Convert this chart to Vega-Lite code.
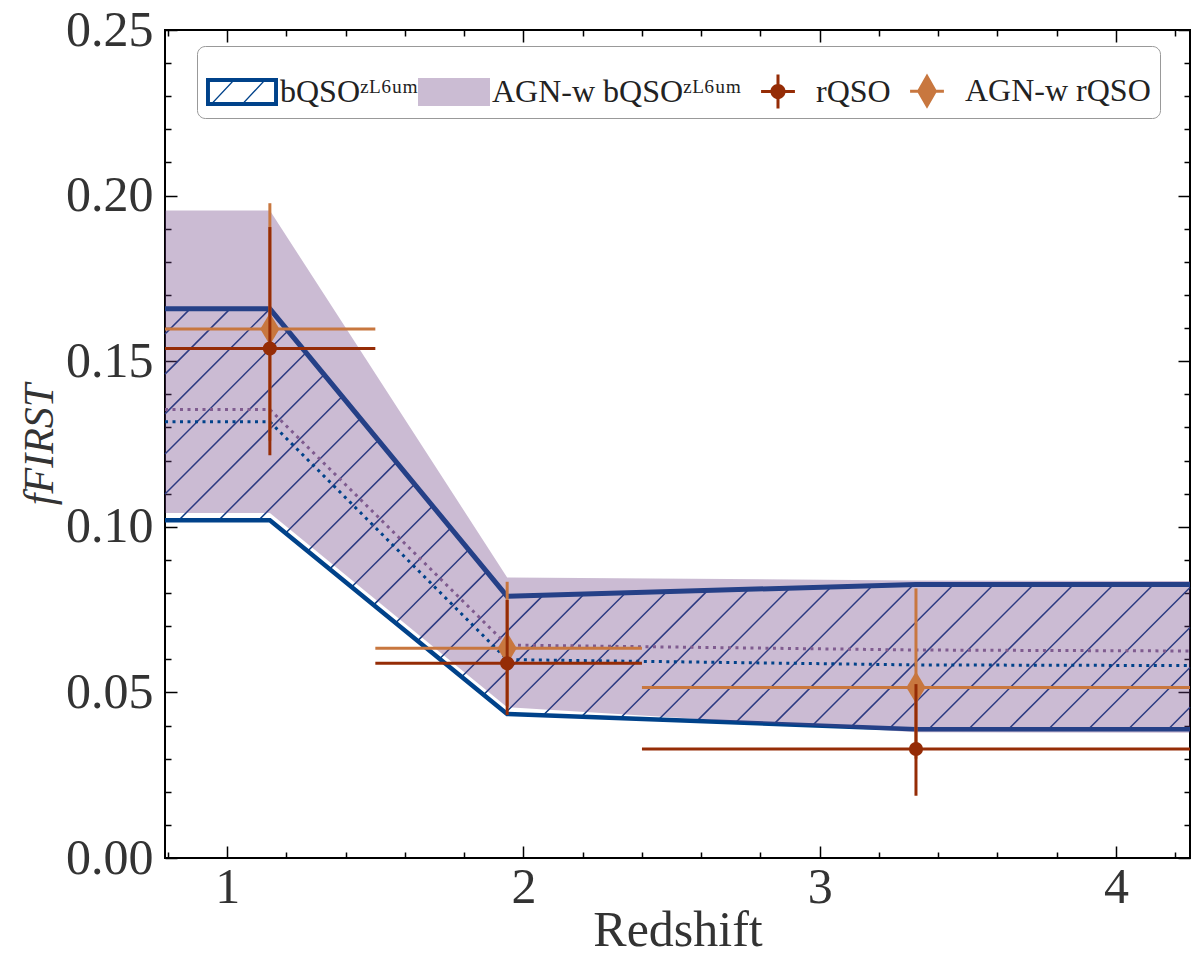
{
  "$schema": "https://vega.github.io/schema/vega-lite/v6.json",
  "width": 1025,
  "height": 828,
  "autosize": {"type": "none"},
  "padding": {"left": 165, "top": 30, "right": 10, "bottom": 103},
  "background": "white",
  "config": {
    "view": {"stroke": "black", "strokeWidth": 2},
    "font": "Liberation Serif"
  },
  "datasets": {
    "hatch": [
      {"x": 0.79, "y": 0.1582, "x2": 0.8746, "y2": 0.1658},
      {"x": 0.79, "y": 0.1461, "x2": 1.0094, "y2": 0.1658},
      {"x": 0.79, "y": 0.1341, "x2": 1.1441, "y2": 0.1658},
      {"x": 0.79, "y": 0.1220, "x2": 1.2052, "y2": 0.1592},
      {"x": 0.79, "y": 0.1099, "x2": 1.2666, "y2": 0.1526},
      {"x": 0.8365, "y": 0.1020, "x2": 1.3276, "y2": 0.1460},
      {"x": 0.9713, "y": 0.1020, "x2": 1.3889, "y2": 0.1394},
      {"x": 1.1061, "y": 0.1020, "x2": 1.4503, "y2": 0.1328},
      {"x": 1.1975, "y": 0.0981, "x2": 1.5113, "y2": 0.1262},
      {"x": 1.2720, "y": 0.0927, "x2": 1.5726, "y2": 0.1196},
      {"x": 1.3465, "y": 0.0873, "x2": 1.6340, "y2": 0.1130},
      {"x": 1.4210, "y": 0.0819, "x2": 1.6950, "y2": 0.1064},
      {"x": 1.4954, "y": 0.0765, "x2": 1.7563, "y2": 0.0998},
      {"x": 1.5699, "y": 0.0711, "x2": 1.8176, "y2": 0.0933},
      {"x": 1.6444, "y": 0.0657, "x2": 1.8786, "y2": 0.0867},
      {"x": 1.7189, "y": 0.0603, "x2": 1.9400, "y2": 0.0801},
      {"x": 1.7934, "y": 0.0549, "x2": 2.0661, "y2": 0.0793},
      {"x": 1.8679, "y": 0.0495, "x2": 2.2052, "y2": 0.0797},
      {"x": 1.9423, "y": 0.0441, "x2": 2.3441, "y2": 0.0800},
      {"x": 2.0667, "y": 0.0431, "x2": 2.4833, "y2": 0.0804},
      {"x": 2.1968, "y": 0.0427, "x2": 2.6222, "y2": 0.0808},
      {"x": 2.3266, "y": 0.0422, "x2": 2.7614, "y2": 0.0812},
      {"x": 2.4567, "y": 0.0418, "x2": 2.9002, "y2": 0.0816},
      {"x": 2.5864, "y": 0.0414, "x2": 3.0391, "y2": 0.0819},
      {"x": 2.7165, "y": 0.0409, "x2": 3.1783, "y2": 0.0823},
      {"x": 2.8463, "y": 0.0405, "x2": 3.3171, "y2": 0.0826},
      {"x": 2.9764, "y": 0.0401, "x2": 3.4523, "y2": 0.0826},
      {"x": 3.1062, "y": 0.0396, "x2": 3.5871, "y2": 0.0826},
      {"x": 3.2362, "y": 0.0392, "x2": 3.7219, "y2": 0.0826},
      {"x": 3.3677, "y": 0.0389, "x2": 3.8567, "y2": 0.0826},
      {"x": 3.5025, "y": 0.0389, "x2": 3.9916, "y2": 0.0826},
      {"x": 3.6373, "y": 0.0389, "x2": 4.1264, "y2": 0.0826},
      {"x": 3.7722, "y": 0.0389, "x2": 4.25, "y2": 0.0817},
      {"x": 3.9070, "y": 0.0389, "x2": 4.25, "y2": 0.0696},
      {"x": 4.0418, "y": 0.0389, "x2": 4.25, "y2": 0.0575},
      {"x": 4.1766, "y": 0.0389, "x2": 4.25, "y2": 0.0455}
    ],
    "band": [
      {"x": 0.79, "bhi": 0.1658, "blo": 0.1020, "phi": 0.1955, "plo": 0.1042, "bmid": 0.1317, "pmid": 0.1354},
      {"x": 1.144, "bhi": 0.1658, "blo": 0.1020, "phi": 0.1955, "plo": 0.1042, "bmid": 0.1317, "pmid": 0.1354},
      {"x": 1.945, "bhi": 0.0790, "blo": 0.0435, "phi": 0.0847, "plo": 0.0455, "bmid": 0.0599, "pmid": 0.0643},
      {"x": 3.325, "bhi": 0.0826, "blo": 0.0389, "phi": 0.0838, "plo": 0.0380, "bmid": 0.0583, "pmid": 0.0628},
      {"x": 4.25, "bhi": 0.0826, "blo": 0.0389, "phi": 0.0836, "plo": 0.0378, "bmid": 0.0581, "pmid": 0.0625}
    ],
    "pts": [
      {"series": "AGN-w rQSO", "x": 1.144, "y": 0.1597, "xlo": 0.79, "xhi": 1.5, "ylo": 0.126, "yhi": 0.1977},
      {"series": "AGN-w rQSO", "x": 1.945, "y": 0.0633, "xlo": 1.5, "xhi": 2.4, "ylo": 0.046, "yhi": 0.0834},
      {"series": "AGN-w rQSO", "x": 3.325, "y": 0.0515, "xlo": 2.4, "xhi": 4.25, "ylo": 0.030, "yhi": 0.0814},
      {"series": "rQSO", "x": 1.144, "y": 0.1538, "xlo": 0.79, "xhi": 1.5, "ylo": 0.1216, "yhi": 0.1905},
      {"series": "rQSO", "x": 1.945, "y": 0.0588, "xlo": 1.5, "xhi": 2.4, "ylo": 0.0432, "yhi": 0.0779},
      {"series": "rQSO", "x": 3.325, "y": 0.0329, "xlo": 2.4, "xhi": 4.25, "ylo": 0.0188, "yhi": 0.0525}
    ]
  },
  "layer": [
    {
      "data": {"name": "hatch"},
      "mark": {"type": "rule", "color": "#0b3a82", "strokeWidth": 1.5},
      "encoding": {
        "x": {"field": "x", "type": "quantitative",
          "scale": {"domain": [0.79, 4.25], "nice": false, "zero": false},
          "axis": {
            "orient": "bottom",
            "values": [0.8, 1, 1.2, 1.4, 1.6, 1.8, 2, 2.2, 2.4, 2.6, 2.8, 3, 3.2, 3.4, 3.6, 3.8, 4, 4.2],
            "labelExpr": "abs(datum.value - round(datum.value)) < 0.001 ? format(datum.value, 'd') : ''",
            "tickSize": {"condition": {"test": "abs(datum.value - round(datum.value)) < 0.001", "value": -12}, "value": -6},
            "tickWidth": 1.5, "tickColor": "black", "domain": false, "grid": false,
            "labelFont": "Liberation Serif", "labelFontSize": 50, "labelColor": "#333", "labelPadding": 16,
            "title": "Redshift", "titleFont": "Liberation Serif", "titleFontSize": 50,
            "titleFontWeight": "normal", "titleColor": "#333", "titlePadding": -7
          }},
        "y": {"field": "y", "type": "quantitative",
          "scale": {"domain": [0, 0.25], "nice": false},
          "axis": {
            "orient": "left",
            "values": [0, 0.01, 0.02, 0.03, 0.04, 0.05, 0.06, 0.07, 0.08, 0.09, 0.1, 0.11, 0.12, 0.13, 0.14, 0.15, 0.16, 0.17, 0.18, 0.19, 0.2, 0.21, 0.22, 0.23, 0.24, 0.25],
            "labelExpr": "abs(datum.value * 20 - round(datum.value * 20)) < 0.001 ? format(datum.value, '.2f') : ''",
            "tickSize": {"condition": {"test": "abs(datum.value * 20 - round(datum.value * 20)) < 0.001", "value": -12}, "value": -6},
            "tickWidth": 1.5, "tickColor": "black", "domain": false, "grid": false,
            "labelFont": "Liberation Serif", "labelFontSize": 50, "labelColor": "#333", "labelPadding": 24,
            "title": "fFIRST", "titleFont": "Liberation Serif", "titleFontSize": 42, "titleFontStyle": "italic",
            "titleFontWeight": "normal", "titleColor": "#333", "titlePadding": 4
          }},
        "x2": {"field": "x2"},
        "y2": {"field": "y2"}
      }
    },
    {
      "data": {"name": "band"},
      "mark": {"type": "line", "color": "#00428a", "strokeWidth": 5},
      "encoding": {
        "x": {"field": "x", "type": "quantitative",
          "scale": {"domain": [0.79, 4.25], "nice": false, "zero": false},
          "axis": {
            "orient": "top",
            "values": [0.8, 1, 1.2, 1.4, 1.6, 1.8, 2, 2.2, 2.4, 2.6, 2.8, 3, 3.2, 3.4, 3.6, 3.8, 4, 4.2],
            "labels": false, "title": null, "domain": false, "grid": false,
            "tickSize": {"condition": {"test": "abs(datum.value - round(datum.value)) < 0.001", "value": -12}, "value": -6},
            "tickWidth": 1.5, "tickColor": "black"
          }},
        "y": {"field": "bhi", "type": "quantitative",
          "scale": {"domain": [0, 0.25], "nice": false},
          "axis": {
            "orient": "right",
            "values": [0, 0.01, 0.02, 0.03, 0.04, 0.05, 0.06, 0.07, 0.08, 0.09, 0.1, 0.11, 0.12, 0.13, 0.14, 0.15, 0.16, 0.17, 0.18, 0.19, 0.2, 0.21, 0.22, 0.23, 0.24, 0.25],
            "labels": false, "title": null, "domain": false, "grid": false,
            "tickSize": {"condition": {"test": "abs(datum.value * 20 - round(datum.value * 20)) < 0.001", "value": -12}, "value": -6},
            "tickWidth": 1.5, "tickColor": "black"
          }}
      }
    },
    {
      "data": {"name": "band"},
      "mark": {"type": "line", "color": "#00428a", "strokeWidth": 4.5},
      "encoding": {
        "x": {"field": "x", "type": "quantitative", "scale": {"domain": [0.79, 4.25], "nice": false, "zero": false}, "axis": null},
        "y": {"field": "blo", "type": "quantitative", "scale": {"domain": [0, 0.25], "nice": false}, "axis": null}
      }
    },
    {
      "data": {"name": "band"},
      "mark": {"type": "area", "color": "#6a3d80", "opacity": 0.35},
      "encoding": {
        "x": {"field": "x", "type": "quantitative", "scale": {"domain": [0.79, 4.25], "nice": false, "zero": false}, "axis": null},
        "y": {"field": "phi", "type": "quantitative", "scale": {"domain": [0, 0.25], "nice": false}, "axis": null},
        "y2": {"field": "plo"}
      }
    },
    {
      "data": {"name": "band"},
      "mark": {"type": "line", "color": "#7f5b8f", "strokeWidth": 3, "strokeDash": [3, 4.5]},
      "encoding": {
        "x": {"field": "x", "type": "quantitative", "scale": {"domain": [0.79, 4.25], "nice": false, "zero": false}, "axis": null},
        "y": {"field": "pmid", "type": "quantitative", "scale": {"domain": [0, 0.25], "nice": false}, "axis": null}
      }
    },
    {
      "data": {"name": "band"},
      "mark": {"type": "line", "color": "#00428a", "strokeWidth": 3, "strokeDash": [3, 4.5]},
      "encoding": {
        "x": {"field": "x", "type": "quantitative", "scale": {"domain": [0.79, 4.25], "nice": false, "zero": false}, "axis": null},
        "y": {"field": "bmid", "type": "quantitative", "scale": {"domain": [0, 0.25], "nice": false}, "axis": null}
      }
    },
    {
      "data": {"name": "pts"},
      "transform": [{"filter": "datum.series === 'AGN-w rQSO'"}],
      "mark": {"type": "rule", "color": "#c8773f", "strokeWidth": 3},
      "encoding": {
        "x": {"field": "xlo", "type": "quantitative", "scale": {"domain": [0.79, 4.25], "nice": false, "zero": false}, "axis": null},
        "x2": {"field": "xhi"},
        "y": {"field": "y", "type": "quantitative", "scale": {"domain": [0, 0.25], "nice": false}, "axis": null}
      }
    },
    {
      "data": {"name": "pts"},
      "transform": [{"filter": "datum.series === 'AGN-w rQSO'"}],
      "mark": {"type": "rule", "color": "#c8773f", "strokeWidth": 3},
      "encoding": {
        "x": {"field": "x", "type": "quantitative", "scale": {"domain": [0.79, 4.25], "nice": false, "zero": false}, "axis": null},
        "y": {"field": "ylo", "type": "quantitative", "scale": {"domain": [0, 0.25], "nice": false}, "axis": null},
        "y2": {"field": "yhi"}
      }
    },
    {
      "data": {"name": "pts"},
      "transform": [{"filter": "datum.series === 'AGN-w rQSO'"}],
      "mark": {"type": "point", "filled": true, "opacity": 1, "size": 1024, "shape": "M0,-1L0.6,0L0,1L-0.6,0Z"},
      "encoding": {
        "x": {"field": "x", "type": "quantitative", "scale": {"domain": [0.79, 4.25], "nice": false, "zero": false}, "axis": null},
        "y": {"field": "y", "type": "quantitative", "scale": {"domain": [0, 0.25], "nice": false}, "axis": null},
        "color": {"field": "series", "type": "nominal",
          "scale": {"domain": ["bQSO", "AGN-w bQSO", "rQSO", "AGN-w rQSO"], "range": ["#00428a", "#cbbcd3", "#952c06", "#c8773f"]},
          "legend": {
            "orient": "none", "legendX": 32, "legendY": 16, "direction": "horizontal", "columns": 4,
            "title": null, "padding": 9, "strokeColor": "#999", "fillColor": "white", "cornerRadius": 8,
            "symbolSize": 5184, "symbolStrokeWidth": 0, "symbolOpacity": 1,
            "labelFont": "Liberation Serif", "labelFontSize": 32, "labelColor": "#222", "labelOffset": 2,
            "labelLimit": 400, "columnPadding": 0,
            "labelExpr": "datum.value === 'bQSO' ? 'bQSOᶻᴸ⁶ᵘᵐ' : datum.value === 'AGN-w bQSO' ? 'AGN-w bQSOᶻᴸ⁶ᵘᵐ' : datum.label",
            "encode": {
              "symbols": {
                "update": {
                  "shape": {"signal": "datum.value === 'bQSO' ? 'M-1,-0.39L1,-0.39L1,0.39L-1,0.39Z M-0.89,-0.28L-0.89,0.28L0.89,0.28L0.89,-0.28Z M-0.82,0.28L-0.3,-0.28L-0.25,-0.28L-0.77,0.28Z M0.04,0.28L0.56,-0.28L0.61,-0.28L0.09,0.28Z' : datum.value === 'AGN-w bQSO' ? 'M-1,-0.39L1,-0.39L1,0.39L-1,0.39Z' : datum.value === 'rQSO' ? 'M0.21,0A0.21,0.21 0 1,1 -0.21,0A0.21,0.21 0 1,1 0.21,0Z M-0.47,-0.042L0.47,-0.042L0.47,0.042L-0.47,0.042Z M-0.042,-0.47L0.042,-0.47L0.042,0.47L-0.042,0.47Z' : 'M0,-0.49L0.28,0L0,0.49L-0.28,0Z M-0.47,-0.042L0.47,-0.042L0.47,0.042L-0.47,0.042Z'"},
                  "fill": {"scale": "color", "field": "value"},
                  "stroke": {"value": "transparent"},
                  "opacity": {"value": 1}
                }
              }
            }
          }}
      }
    },
    {
      "data": {"name": "pts"},
      "transform": [{"filter": "datum.series === 'rQSO'"}],
      "mark": {"type": "rule", "color": "#952c06", "strokeWidth": 3},
      "encoding": {
        "x": {"field": "xlo", "type": "quantitative", "scale": {"domain": [0.79, 4.25], "nice": false, "zero": false}, "axis": null},
        "x2": {"field": "xhi"},
        "y": {"field": "y", "type": "quantitative", "scale": {"domain": [0, 0.25], "nice": false}, "axis": null}
      }
    },
    {
      "data": {"name": "pts"},
      "transform": [{"filter": "datum.series === 'rQSO'"}],
      "mark": {"type": "rule", "color": "#952c06", "strokeWidth": 3},
      "encoding": {
        "x": {"field": "x", "type": "quantitative", "scale": {"domain": [0.79, 4.25], "nice": false, "zero": false}, "axis": null},
        "y": {"field": "ylo", "type": "quantitative", "scale": {"domain": [0, 0.25], "nice": false}, "axis": null},
        "y2": {"field": "yhi"}
      }
    },
    {
      "data": {"name": "pts"},
      "transform": [{"filter": "datum.series === 'rQSO'"}],
      "mark": {"type": "point", "filled": true, "opacity": 1, "size": 200, "shape": "circle"},
      "encoding": {
        "x": {"field": "x", "type": "quantitative", "scale": {"domain": [0.79, 4.25], "nice": false, "zero": false}, "axis": null},
        "y": {"field": "y", "type": "quantitative", "scale": {"domain": [0, 0.25], "nice": false}, "axis": null},
        "color": {"field": "series", "type": "nominal",
          "scale": {"domain": ["bQSO", "AGN-w bQSO", "rQSO", "AGN-w rQSO"], "range": ["#00428a", "#cbbcd3", "#952c06", "#c8773f"]},
          "legend": null}
      }
    }
  ]
}
